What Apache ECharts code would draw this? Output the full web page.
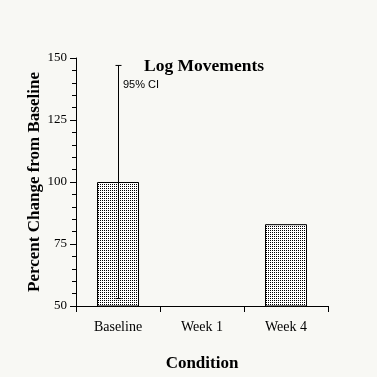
<!DOCTYPE html>
<html>
<head>
<meta charset="utf-8">
<script src="https://cdn.jsdelivr.net/npm/echarts@6/dist/echarts.min.js"></script>
<style>
  html, body { margin: 0; padding: 0; background: #f8f8f4; }
  #chart { width: 377px; height: 377px; }
</style>
</head>
<body>
<div id="chart"></div>
<script>
const CATEGORIES = ['Baseline', 'Week 1', 'Week 4'];
const PERCENT_CHANGE = [100, null, 83];
const CI_LOW = [53, null, null];
const CI_HIGH = [147, null, null];

// stipple fill for the bars
function dotPattern() {
  const c = document.createElement('canvas');
  c.width = 2;
  c.height = 2;
  const ctx = c.getContext('2d');
  ctx.fillStyle = '#ffffff';
  ctx.fillRect(0, 0, 2, 2);
  ctx.fillStyle = '#000000';
  ctx.fillRect(0, 0, 1, 1);
  return c;
}

const serif = '"Liberation Serif", "DejaVu Serif", serif';
const chart = echarts.init(document.getElementById('chart'), null, { renderer: 'canvas' });

chart.setOption({
  backgroundColor: '#f8f8f4',
  animation: false,
  title: {
    text: 'Log Movements',
    left: 199,
    top: 52,
    textAlign: 'center',
    textStyle: { fontFamily: serif, fontSize: 17.5, fontWeight: 'bold', color: '#000' }
  },
  graphic: [{
    type: 'text',
    left: 123,
    top: 79,
    style: { text: '95% CI', font: '11px "Liberation Sans", Arial, sans-serif', fill: '#000' }
  }],
  grid: { left: 76, right: 49, top: 58, bottom: 67, containLabel: false },
  xAxis: {
    type: 'category',
    data: CATEGORIES,
    name: 'Condition',
    nameLocation: 'middle',
    nameGap: 49,
    nameMoveOverlap: false,
    nameTextStyle: { fontFamily: serif, fontSize: 17, fontWeight: 'bold', color: '#000' },
    axisLine: { lineStyle: { color: '#000', width: 1 } },
    axisTick: { show: true, length: 6, lineStyle: { color: '#000' } },
    axisLabel: { fontFamily: serif, fontSize: 14, color: '#000', margin: 14 },
    splitLine: { show: false }
  },
  yAxis: {
    type: 'value',
    min: 50,
    max: 150,
    interval: 25,
    name: 'Percent Change from Baseline',
    nameLocation: 'middle',
    nameGap: 33,
    nameMoveOverlap: false,
    nameTextStyle: { fontFamily: serif, fontSize: 17, fontWeight: 'bold', color: '#000' },
    axisLine: { show: true, lineStyle: { color: '#000', width: 1 } },
    axisTick: { show: true, length: 6, lineStyle: { color: '#000' } },
    minorTick: { show: true, splitNumber: 5, length: 4, lineStyle: { color: '#000' } },
    axisLabel: { fontFamily: serif, fontSize: 13, color: '#000', margin: 9 },
    splitLine: { show: false }
  },
  series: [
    {
      type: 'bar',
      data: PERCENT_CHANGE,
      barWidth: '50%',
      itemStyle: {
        color: { image: dotPattern(), repeat: 'repeat' },
        borderColor: '#000',
        borderWidth: 1
      }
    },
    {
      type: 'custom',
      data: CATEGORIES.map((c, i) => [i, CI_LOW[i], CI_HIGH[i]]).filter(d => d[1] != null),
      renderItem: function (params, api) {
        const lo = api.coord([api.value(0), api.value(1)]);
        const hi = api.coord([api.value(0), api.value(2)]);
        const x = Math.round(lo[0]) + 0.5;
        const cap = 3;
        const style = { stroke: '#000', lineWidth: 1 };
        return {
          type: 'group',
          children: [
            { type: 'line', shape: { x1: x, y1: hi[1], x2: x, y2: lo[1] }, style: style },
            { type: 'line', shape: { x1: x - cap, y1: hi[1], x2: x + cap, y2: hi[1] }, style: style },
            { type: 'line', shape: { x1: x - cap, y1: lo[1], x2: x + cap, y2: lo[1] }, style: style }
          ]
        };
      },
      z: 10
    }
  ]
});
</script>
</body>
</html>
